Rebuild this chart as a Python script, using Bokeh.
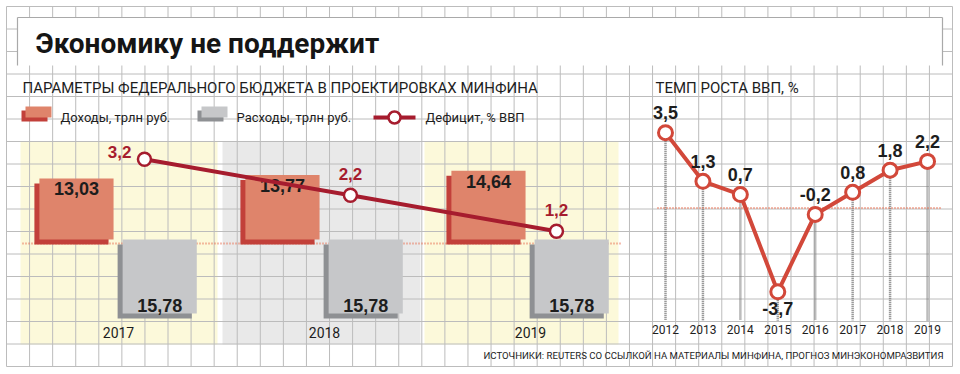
from bokeh.plotting import figure
from bokeh.models import Range1d, ColumnDataSource
from bokeh.embed import file_html
from bokeh.resources import INLINE
from bokeh.core.properties import value

# ---------------- data ----------------
budget_years = ["2017", "2018", "2019"]
income = [13.03, 13.77, 14.64]          # Доходы, трлн руб.
expense = [15.78, 15.78, 15.78]         # Расходы, трлн руб.
deficit = [3.2, 2.2, 1.2]               # Дефицит, % ВВП

gdp_years = [2012, 2013, 2014, 2015, 2016, 2017, 2018, 2019]
gdp = [3.5, 1.3, 0.7, -3.7, -0.2, 0.8, 1.8, 2.2]   # Темп роста ВВП, %

TITLE = "Экономику не поддержит"
SUB_LEFT = "ПАРАМЕТРЫ ФЕДЕРАЛЬНОГО БЮДЖЕТА В ПРОЕКТИРОВКАХ МИНФИНА"
SUB_RIGHT = "ТЕМП РОСТА ВВП, %"
LEG = ["Доходы, трлн руб.", "Расходы, трлн руб.", "Дефицит, % ВВП"]
SOURCE = "ИСТОЧНИКИ: REUTERS СО ССЫЛКОЙ НА МАТЕРИАЛЫ МИНФИНА, ПРОГНОЗ МИНЭКОНОМРАЗВИТИЯ"


def ru(v, nd):
    return f"{v:.{nd}f}".replace(".", ",")

# ---------------- layout constants (page space, y downward) ----------------
W, H = 960, 374
XMIN, XMAX = 0.0, float(W)
YMIN, YMAX = 0.0, float(H)

# left chart scales
LX0, LXS = 118.0, 206.0       # group centre / px per group
LY0, LYS = 239.0, 4.69        # bar baseline / px per trln
DY0, DYS = 274.0, 36.0        # deficit zero / px per %
# right chart scales
RX0, RXS = 665.0, 37.43
RY0, RYS = 209.5, 22.1

DEPTH = 5.0                   # 3d depth of bars, px
INC_OFF, EXP_OFF, DEF_OFF, BAR_W = -0.204, 0.2, 0.126, 0.36

RED_FRONT, RED_SIDE = "#df846b", "#c2403a"
GREY_FRONT, GREY_SIDE = "#c6c7c9", "#8e9093"
DEF_COL = "#a61c2e"
GDP_COL = "#d2483a"
DOT_COL = "#e8785c"
GRID_COL = "#bcbcbc"
TXT = "#1d1d1d"

p = figure(width=W, height=H, x_range=Range1d(XMIN, XMAX), y_range=Range1d(YMAX, YMIN),
           x_axis_type=None, y_axis_type=None, output_backend="svg", toolbar_location=None,
           min_border=0)
p.outline_line_color = None
p.background_fill_color = "white"
p.border_fill_color = "white"

p.extra_x_ranges = {
    "lx": Range1d((XMIN - LX0) / LXS, (XMAX - LX0) / LXS),
    "rx": Range1d(gdp_years[0] + (XMIN - RX0) / RXS, gdp_years[0] + (XMAX - RX0) / RXS),
}
p.extra_y_ranges = {
    "ly": Range1d((LY0 - YMAX) / LYS, (LY0 - YMIN) / LYS),
    "dy": Range1d((DY0 - YMAX) / DYS, (DY0 - YMIN) / DYS),
    "ry": Range1d((RY0 - YMAX) / RYS, (RY0 - YMIN) / RYS),
}

# ---------------- background panels ----------------
panel_l = [20, 222, 424]
panel_r = [217, 420, 618]
panel_c = ["#fcf9da", "#e9e9e9", "#fcf9da"]
p.quad(left=panel_l, right=panel_r, top=141, bottom=344, fill_color=panel_c, line_color=None)

# ---------------- graph-paper grid ----------------
NCX, NCY = 41, 16
x0g, x1g, y0g, y1g = 6.0, 952.0, 6.0, 366.0
gx = [x0g + (x1g - x0g) * k / NCX for k in range(NCX + 1)]
gy = [y0g + (y1g - y0g) * k / NCY for k in range(NCY + 1)]
p.segment(x0=gx, y0=y0g, x1=gx, y1=y1g, line_color=GRID_COL, line_width=1)
p.segment(x0=x0g, y0=gy, x1=x1g, y1=gy, line_color=GRID_COL, line_width=1)

# ---------------- title box ----------------
p.quad(left=17, right=942, top=17, bottom=65, fill_color="white", line_color=None)
p.segment(x0=[17, 17, 942], y0=[65, 17, 17], x1=[17, 942, 942], y1=[17, 17, 65],
          line_color="#a9a9a9", line_width=1.2)
p.text(x=[35], y=[43], text=[TITLE], text_font=value("Roboto"), text_font_style="bold",
       text_font_size="28px", text_color="#151515", text_baseline="middle")

# sub titles
p.text(x=[22], y=[87], text=[SUB_LEFT], text_font=value("Roboto"), text_font_size="15px",
       text_color=TXT, text_baseline="middle")
p.text(x=[655], y=[87], text=[SUB_RIGHT], text_font=value("Roboto"), text_font_size="15px",
       text_color=TXT, text_baseline="middle")

# ---------------- legend ----------------
LEG_Y = 111
p.quad(left=[21, 197], right=[47, 223], top=LEG_Y - 5 + 4, bottom=LEG_Y + 6 + 4,
       fill_color=[RED_SIDE, GREY_SIDE], line_color=None)
p.quad(left=[25, 201], right=[51, 227], top=LEG_Y - 5, bottom=LEG_Y + 6,
       fill_color=[RED_FRONT, GREY_FRONT], line_color=None)
p.segment(x0=[373], y0=[LEG_Y + 6], x1=[415], y1=[LEG_Y + 6], line_color=DEF_COL, line_width=4)
p.scatter(x=[394], y=[LEG_Y + 6], size=12, marker="circle", fill_color="white",
          line_color=DEF_COL, line_width=2.5)
p.text(x=[60, 236, 425], y=[LEG_Y + 6] * 3, text=LEG, text_font=value("Roboto"),
       text_font_size="13px", text_color=TXT, text_baseline="middle")

# ---------------- left chart: budget ----------------
gi = list(range(len(budget_years)))
dxu = -DEPTH / LXS
dyu = -DEPTH / LYS

# dotted baseline
p.segment(x0=[22], y0=[LY0 + 4], x1=[620], y1=[LY0 + 4], line_color=DOT_COL,
          line_width=2, line_dash="1 2")

src = ColumnDataSource(dict(
    xi=[i + INC_OFF for i in gi], xid=[i + INC_OFF + dxu for i in gi],
    xe=[i + EXP_OFF for i in gi], xed=[i + EXP_OFF + dxu for i in gi],
    inc=income, incd=[v + dyu for v in income],
    exn=[-v for v in expense], exnd=[-v + dyu for v in expense],
    zero=[0] * 3, zerod=[dyu] * 3,
    inc_lab=[ru(v, 2) for v in income], exp_lab=[ru(v, 2) for v in expense],
))
# income bars (3d)
p.vbar(x="xid", width=BAR_W, top="incd", bottom="zerod", source=src, fill_color=RED_SIDE,
       line_color=None, x_range_name="lx", y_range_name="ly")
p.vbar(x="xi", width=BAR_W, top="inc", bottom="zero", source=src, fill_color=RED_FRONT,
       line_color=None, x_range_name="lx", y_range_name="ly")
# expense bars (3d), hanging below
p.vbar(x="xed", width=BAR_W, top="zerod", bottom="exnd", source=src, fill_color=GREY_SIDE,
       line_color=None, x_range_name="lx", y_range_name="ly")
p.vbar(x="xe", width=BAR_W, top="zero", bottom="exn", source=src, fill_color=GREY_FRONT,
       line_color=None, x_range_name="lx", y_range_name="ly")

p.text(x="xi", y="inc", text="inc_lab", source=src, text_font=value("Liberation Sans"),
       text_font_style="bold", text_font_size="18px", text_color=TXT, text_align="center",
       text_baseline="top", y_offset=4, x_range_name="lx", y_range_name="ly")
p.text(x="xe", y="exn", text="exp_lab", source=src, text_font=value("Liberation Sans"),
       text_font_style="bold", text_font_size="18px", text_color=TXT, text_align="center",
       text_baseline="bottom", y_offset=-2, x_range_name="lx", y_range_name="ly")

# year labels
p.text(x=gi, y=[332] * 3, text=budget_years, text_font=value("Roboto"), text_font_size="14px",
       text_color=TXT, text_align="center", text_baseline="middle", x_range_name="lx")

# deficit line
dsrc = ColumnDataSource(dict(x=[i + DEF_OFF for i in gi], y=deficit,
                             lab=[ru(v, 1) for v in deficit]))
p.line(x="x", y="y", source=dsrc, line_color=DEF_COL, line_width=4,
       x_range_name="lx", y_range_name="dy")
p.scatter(x="x", y="y", source=dsrc, size=13, marker="circle", fill_color="white",
          line_color=DEF_COL, line_width=2.5, x_range_name="lx", y_range_name="dy")
p.text(x=dsrc.data["x"][:1], y=deficit[:1], text=dsrc.data["lab"][:1],
       text_font=value("Liberation Sans"), text_font_style="bold", text_font_size="17px",
       text_color=DEF_COL, text_align="right", text_baseline="middle", x_offset=-13, y_offset=-7,
       x_range_name="lx", y_range_name="dy")
p.text(x=dsrc.data["x"][1:], y=deficit[1:], text=dsrc.data["lab"][1:],
       text_font=value("Liberation Sans"), text_font_style="bold", text_font_size="17px",
       text_color=DEF_COL, text_align="center", text_baseline="middle", y_offset=-21,
       x_range_name="lx", y_range_name="dy")

# ---------------- right chart: GDP ----------------
GDP_FLOOR = (RY0 - 320) / RYS
gsrc = ColumnDataSource(dict(x=gdp_years, y=gdp, lab=[ru(v, 1) for v in gdp],
                             floor=[GDP_FLOOR] * len(gdp),
                             yo=[17 if v < -1 else -20 for v in gdp]))
p.segment(x0="x", y0="y", x1="x", y1="floor", source=gsrc, line_color="#7a7a7a",
          line_width=2.5, line_dash="1 1", x_range_name="rx", y_range_name="ry")
p.segment(x0=[657], y0=[RY0 - 2], x1=[942], y1=[RY0 - 2], line_color=DOT_COL, line_width=2,
          line_dash="1 2")
p.line(x="x", y="y", source=gsrc, line_color=GDP_COL, line_width=4,
       x_range_name="rx", y_range_name="ry")
p.scatter(x="x", y="y", source=gsrc, size=14, marker="circle", fill_color="white",
          line_color=GDP_COL, line_width=3, x_range_name="rx", y_range_name="ry")
p.text(x="x", y="y", text="lab", source=gsrc, text_font=value("Liberation Sans"),
       text_font_style="bold", text_font_size="18px", text_color=TXT, text_align="center",
       text_baseline="middle", y_offset="yo", x_range_name="rx", y_range_name="ry")
p.text(x=gdp_years, y=[329] * len(gdp_years), text=[str(y) for y in gdp_years],
       text_font=value("Roboto"), text_font_size="12px", text_color=TXT, text_align="center",
       text_baseline="middle", x_range_name="rx")

# source
p.text(x=[943], y=[355], text=[SOURCE], text_font=value("Roboto"), text_font_size="9.6px",
       text_color=TXT, text_align="right", text_baseline="middle")

open("out.html", "w").write(file_html(p, INLINE))
